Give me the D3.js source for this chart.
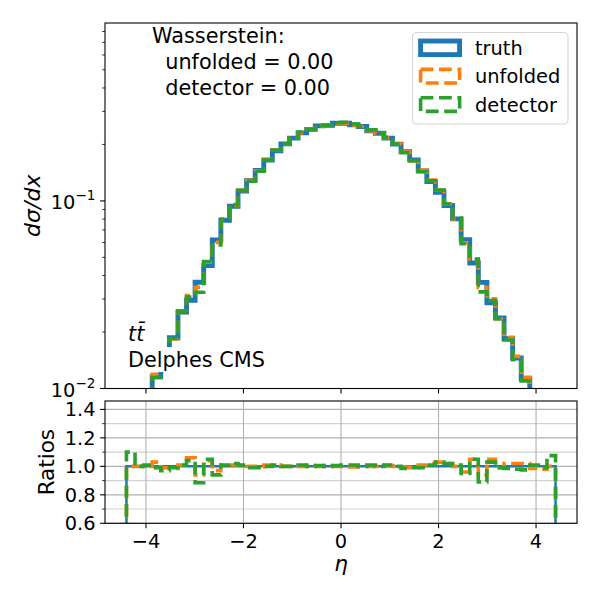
<!DOCTYPE html>
<html>
<head>
<meta charset="utf-8">
<script src="https://cdn.jsdelivr.net/npm/d3@7"></script>
<style>
  body { margin: 0; background: #fff; }
  svg text { font-family: "DejaVu Sans", sans-serif; fill: #000; }
</style>
</head>
<body>
<svg id="chart" width="600" height="600"></svg>
<script>
// binning of eta
const binLo = -4.4, binHi = 4.4, nBins = 50;

// truth histogram (d sigma / dx)
const truth = [
  0.0040, 0.0062, 0.0090, 0.01156, 0.01472, 0.01866, 0.02559, 0.02954, 0.03685, 0.04529,
  0.06194, 0.07892, 0.0937, 0.1127, 0.1286, 0.1454, 0.1649, 0.1848, 0.2014, 0.2160,
  0.2305, 0.2406, 0.2512, 0.2527, 0.2596, 0.2596, 0.2543, 0.2491, 0.2368, 0.2296,
  0.2160, 0.2007, 0.1832, 0.1655, 0.1445, 0.1267, 0.1110, 0.0946, 0.0802, 0.0622,
  0.0467, 0.0368, 0.0286, 0.0238, 0.0184, 0.01455, 0.01124, 0.0088, 0.0061, 0.0039
];

// ratios to truth, lower panel
const ratioUnfolded = [
  1.00, 1.00, 1.00, 1.03, 0.99, 0.985, 1.01, 1.06, 0.94, 1.04,
  0.97, 1.01, 1.01, 1.01, 1.00, 0.995, 1.01, 1.01, 1.00, 1.00,
  1.00, 1.005, 1.00, 1.005, 1.00, 1.00, 0.995, 1.00, 1.00, 1.00,
  1.005, 1.00, 0.995, 0.99, 1.01, 1.02, 1.03, 1.02, 1.00, 0.96,
  1.05, 0.94, 1.05, 0.99, 1.02, 1.02, 1.02, 0.985, 0.98, 1.00
];
const ratioDetector = [
  1.10, 1.00, 1.01, 0.99, 0.97, 0.99, 1.01, 1.04, 0.885, 1.05,
  0.94, 1.01, 1.02, 1.01, 0.99, 0.99, 1.00, 1.01, 1.00, 1.00,
  1.01, 1.00, 1.005, 1.00, 1.005, 1.01, 1.01, 1.00, 1.01, 1.00,
  1.01, 1.00, 0.985, 0.99, 0.99, 1.01, 1.03, 1.02, 1.01, 0.95,
  1.05, 0.89, 1.03, 0.99, 0.985, 0.98, 0.975, 1.01, 0.99, 1.075
];

const xTicks = [-4, -2, 0, 2, 4];
const xTickLabels = ["\u22124", "\u22122", "0", "2", "4"];
const logMajor = [0.01, 0.1];
const logMajorExp = ["\u22122", "\u22121"];
const logMinor = [0.02, 0.03, 0.04, 0.05, 0.06, 0.07, 0.08, 0.09,
                  0.2, 0.3, 0.4, 0.5, 0.6, 0.7, 0.8];
const ratioTicks = [0.6, 0.8, 1.0, 1.2, 1.4];
const ratioTickLabels = ["0.6", "0.8", "1.0", "1.2", "1.4"];
const ratioMinor = [0.7, 0.9, 1.1, 1.3];
const legendLabels = ["truth", "unfolded", "detector"];
const wassLines = ["Wasserstein:", "  unfolded = 0.00", "  detector = 0.00"];

const colors = ["#1f77b4", "#ff7f0e", "#2ca02c"];
const dash = "12.8,5.6";

// derived series for the upper panel
const unfolded = truth.map((t, i) => t * ratioUnfolded[i]);
const detector = truth.map((t, i) => t * ratioDetector[i]);
const ones = truth.map(() => 1);
const edges = d3.range(nBins + 1).map(i => binLo + i * (binHi - binLo) / nBins);

const L = 105, R = 577;
const main = {top: 23, bottom: 388.5};
const rat = {top: 401, bottom: 523.3};
const tickFont = 19.4;

const svg = d3.select("#chart");

const x = d3.scaleLinear().domain([-4.84, 4.84]).range([L, R]);
const y = d3.scaleLog().domain([0.01, 0.888]).range([main.bottom, main.top]);
const yr = d3.scaleLinear().domain([0.6, 1.459]).range([rat.bottom, rat.top]);

svg.append("clipPath").attr("id", "clipMain")
  .append("rect").attr("x", L).attr("y", main.top).attr("width", R - L).attr("height", main.bottom - main.top);
svg.append("clipPath").attr("id", "clipRat")
  .append("rect").attr("x", L).attr("y", rat.top).attr("width", R - L).attr("height", rat.bottom - rat.top);

// step histogram path, closed to the floor at both ends
function stepPoints(vals, floor) {
  const pts = [{x: edges[0], v: floor}];
  vals.forEach((v, i) => pts.push({x: edges[i], v: v}));
  pts.push({x: edges[nBins], v: vals[nBins - 1]});
  pts.push({x: edges[nBins], v: floor});
  return pts;
}

function drawStep(g, vals, yScale, floor, color, width, dashed) {
  const line = d3.line().curve(d3.curveStepAfter)
    .x(d => x(d.x)).y(d => yScale(d.v));
  g.append("path")
    .datum(stepPoints(vals, floor))
    .attr("d", line)
    .attr("fill", "none")
    .attr("stroke", color)
    .attr("stroke-width", width)
    .attr("stroke-dasharray", dashed ? dash : null)
    .attr("stroke-linejoin", "miter");
}

// ---------- upper panel ----------
const gMain = svg.append("g").attr("clip-path", "url(#clipMain)");
drawStep(gMain, truth, y, 0.001, colors[0], 4.9, false);
drawStep(gMain, unfolded, y, 0.001, colors[1], 3.6, true);
drawStep(gMain, detector, y, 0.001, colors[2], 3.6, true);

// y ticks (log)
const gy = svg.append("g");
logMinor.forEach(v => {
  gy.append("line").attr("x1", L - 2.8).attr("x2", L).attr("y1", y(v)).attr("y2", y(v))
    .attr("stroke", "#000").attr("stroke-width", 0.8);
});
logMajor.forEach((v, i) => {
  gy.append("line").attr("x1", L - 4.9).attr("x2", L).attr("y1", y(v)).attr("y2", y(v))
    .attr("stroke", "#000").attr("stroke-width", 1.1);
  const t = gy.append("text").attr("x", L - 9.5).attr("y", y(v) + 8)
    .attr("text-anchor", "end").attr("font-size", tickFont);
  t.append("tspan").text("10");
  t.append("tspan").attr("dy", -9).attr("font-size", 13.6).text(logMajorExp[i]);
});
// x ticks, upper panel (no labels)
xTicks.forEach(v => {
  svg.append("line").attr("x1", x(v)).attr("x2", x(v)).attr("y1", main.bottom).attr("y2", main.bottom + 4.9)
    .attr("stroke", "#000").attr("stroke-width", 1.1);
});
svg.append("rect").attr("x", L).attr("y", main.top).attr("width", R - L).attr("height", main.bottom - main.top)
  .attr("fill", "none").attr("stroke", "#000").attr("stroke-width", 1.1);

svg.append("text").attr("transform", `translate(40,${(main.top + main.bottom) / 2}) rotate(-90)`)
  .attr("text-anchor", "middle").attr("font-size", 22).attr("font-style", "italic")
  .text("d\u03c3/dx");

// Wasserstein annotation
const wt = svg.append("text").attr("font-size", 20.8).style("white-space", "pre");
wassLines.forEach((s, i) => {
  wt.append("tspan").attr("x", 152).attr("y", 43.3 + i * 26).text(s);
});

// process labels
svg.append("text").attr("x", 128).attr("y", 341).attr("font-size", 20.8)
  .attr("font-style", "italic").text("tt\u0304");
const dGroup = svg.append("g");
const dBox = dGroup.append("rect").attr("fill", "#fff");
const dText = dGroup.append("text").attr("x", 128).attr("y", 367).attr("font-size", 20.8).text("Delphes CMS");
const bb = dText.node().getBBox();
dBox.attr("x", bb.x - 2).attr("y", bb.y - 1).attr("width", bb.width + 4).attr("height", bb.height + 1);

// legend
const lg = svg.append("g");
lg.append("rect").attr("x", 412.5).attr("y", 32.5).attr("width", 155.5).attr("height", 91.5)
  .attr("rx", 4).attr("fill", "#fff").attr("fill-opacity", 0.8)
  .attr("stroke", "#d6d6d6").attr("stroke-width", 1.1);
legendLabels.forEach((name, i) => {
  const cy = 47.8 + i * 28.4;
  lg.append("rect").attr("x", 420.6).attr("y", cy - 6.8).attr("width", 39).attr("height", 13.6)
    .attr("fill", "none").attr("stroke", colors[i])
    .attr("stroke-width", i === 0 ? 4.9 : 3.6)
    .attr("stroke-dasharray", i === 0 ? null : dash);
  lg.append("text").attr("x", 475).attr("y", cy + 7).attr("font-size", tickFont).text(name);
});

// ---------- ratio panel ----------
const grid = svg.append("g");
ratioMinor.forEach(v => {
  grid.append("line").attr("x1", L).attr("x2", R).attr("y1", yr(v)).attr("y2", yr(v))
    .attr("stroke", "#d2d2d2").attr("stroke-width", 1.1);
});
ratioTicks.forEach(v => {
  grid.append("line").attr("x1", L).attr("x2", R).attr("y1", yr(v)).attr("y2", yr(v))
    .attr("stroke", "#b0b0b0").attr("stroke-width", 1.1);
});
xTicks.forEach(v => {
  grid.append("line").attr("x1", x(v)).attr("x2", x(v)).attr("y1", rat.top).attr("y2", rat.bottom)
    .attr("stroke", "#b0b0b0").attr("stroke-width", 1.1);
});

const gRat = svg.append("g").attr("clip-path", "url(#clipRat)");
drawStep(gRat, ones, yr, 0, colors[0], 2.5, false);
drawStep(gRat, ratioUnfolded, yr, 0, colors[1], 3.6, true);
drawStep(gRat, ratioDetector, yr, 0, colors[2], 3.6, true);

ratioMinor.forEach(v => {
  svg.append("line").attr("x1", L - 2.8).attr("x2", L).attr("y1", yr(v)).attr("y2", yr(v))
    .attr("stroke", "#000").attr("stroke-width", 0.8);
});
ratioTicks.forEach((v, i) => {
  svg.append("line").attr("x1", L - 4.9).attr("x2", L).attr("y1", yr(v)).attr("y2", yr(v))
    .attr("stroke", "#000").attr("stroke-width", 1.1);
  svg.append("text").attr("x", L - 9.5).attr("y", yr(v) + 7).attr("text-anchor", "end")
    .attr("font-size", tickFont).text(ratioTickLabels[i]);
});
xTicks.forEach((v, i) => {
  svg.append("line").attr("x1", x(v)).attr("x2", x(v)).attr("y1", rat.bottom).attr("y2", rat.bottom + 4.9)
    .attr("stroke", "#000").attr("stroke-width", 1.1);
  svg.append("text").attr("x", x(v)).attr("y", 548).attr("text-anchor", "middle")
    .attr("font-size", tickFont).text(xTickLabels[i]);
});
svg.append("rect").attr("x", L).attr("y", rat.top).attr("width", R - L).attr("height", rat.bottom - rat.top)
  .attr("fill", "none").attr("stroke", "#000").attr("stroke-width", 1.1);

svg.append("text").attr("transform", `translate(54,${(rat.top + rat.bottom) / 2}) rotate(-90)`)
  .attr("text-anchor", "middle").attr("font-size", 21.5).text("Ratios");
svg.append("text").attr("x", x(0)).attr("y", 571).attr("text-anchor", "middle")
  .attr("font-size", 21.5).attr("font-style", "italic").text("\u03b7");
</script>
</body>
</html>
